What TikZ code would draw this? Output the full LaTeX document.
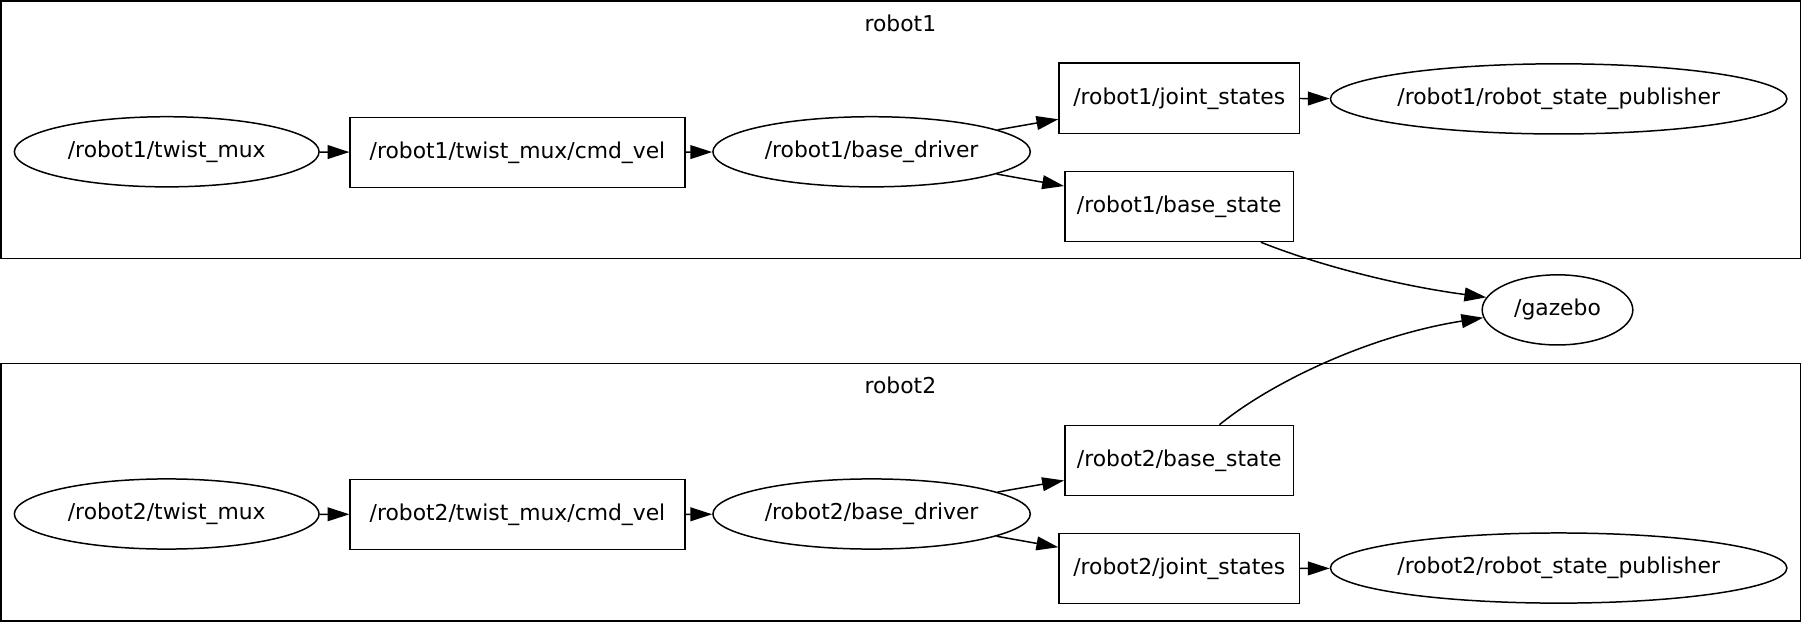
\documentclass[tikz,border=0pt]{standalone}
\usepackage{fontspec}
\setmainfont{DejaVu Sans}
\usetikzlibrary{shapes.geometric,arrows.meta}
\begin{document}
\begin{tikzpicture}[x=1pt, y=-1pt,
  node/.style={draw, ellipse, line width=1.3pt, inner sep=0pt, minimum width=#1,
               minimum height=61pt, font=\fontsize{19}{22}\selectfont},
  topic/.style={draw, rectangle, line width=1.3pt, inner sep=0pt, minimum width=#1,
                minimum height=61pt, font=\fontsize{19}{22}\selectfont},
  cluster/.style={draw, rectangle, line width=1.3pt, inner sep=0pt,
                  minimum width=1565pt, minimum height=224pt},
  title/.style={font=\fontsize{19}{22}\selectfont},
  pub/.style={-{Triangle[length=19pt,width=12pt]}, line width=1.3pt}
]
  \useasboundingbox (0,0) rectangle (1568,541);

  %-- robot1
  \node[cluster] (robot1) at (783.5,113) {};
  \node[title]   (lab1)   at (783,20)    {robot1};
  \node[node=265pt] (tm1)  at (145,132)      {/robot1/twist\_mux};
  \node[topic=291pt] (cv1)  at (450,132.5)    {/robot1/twist\_mux/cmd\_vel};
  \node[node=276pt] (bd1)  at (758,132)      {/robot1/base\_driver};
  \node[topic=209pt] (js1)  at (1025.5,85.5)  {/robot1/joint\_states};
  \node[node=397pt] (rsp1) at (1355.5,86)    {/robot1/robot\_state\_publisher};
  \node[topic=199pt] (bs1)  at (1025.5,179.5) {/robot1/base\_state};

  %-- gazebo
  \node[node=131pt] (gz)   at (1354.5,269.5) {/gazebo};

  %-- robot2
  \node[cluster] (robot2) at (783.5,428) {};
  \node[title]   (lab2)   at (783,335)   {robot2};
  \node[node=265pt] (tm2)  at (145,447)      {/robot2/twist\_mux};
  \node[topic=291pt] (cv2)  at (450,447.5)    {/robot2/twist\_mux/cmd\_vel};
  \node[node=276pt] (bd2)  at (758,447)      {/robot2/base\_driver};
  \node[topic=199pt] (bs2)  at (1025.5,400.5) {/robot2/base\_state};
  \node[topic=209pt] (js2)  at (1025.5,494.5) {/robot2/joint\_states};
  \node[node=397pt] (rsp2) at (1355.5,494)   {/robot2/robot\_state\_publisher};

  %-- Flèches
  \draw[pub] (tm1) -- (cv1);
  \draw[pub] (cv1) -- (bd1);
  \draw[pub] (bd1) -- (js1);
  \draw[pub] (bd1) -- (bs1);
  \draw[pub] (js1) -- (rsp1);
  \draw[pub] (tm2) -- (cv2);
  \draw[pub] (cv2) -- (bd2);
  \draw[pub] (bd2) -- (bs2);
  \draw[pub] (bd2) -- (js2);
  \draw[pub] (js2) -- (rsp2);
  \draw[pub] ([xshift=71pt]bs1.south) .. controls (1150,232) and (1220,249) .. (gz.170);
  \draw[pub] ([xshift=35pt]bs2.north) .. controls (1105,333) and (1190,292) .. (gz.186);
\end{tikzpicture}
\end{document}
